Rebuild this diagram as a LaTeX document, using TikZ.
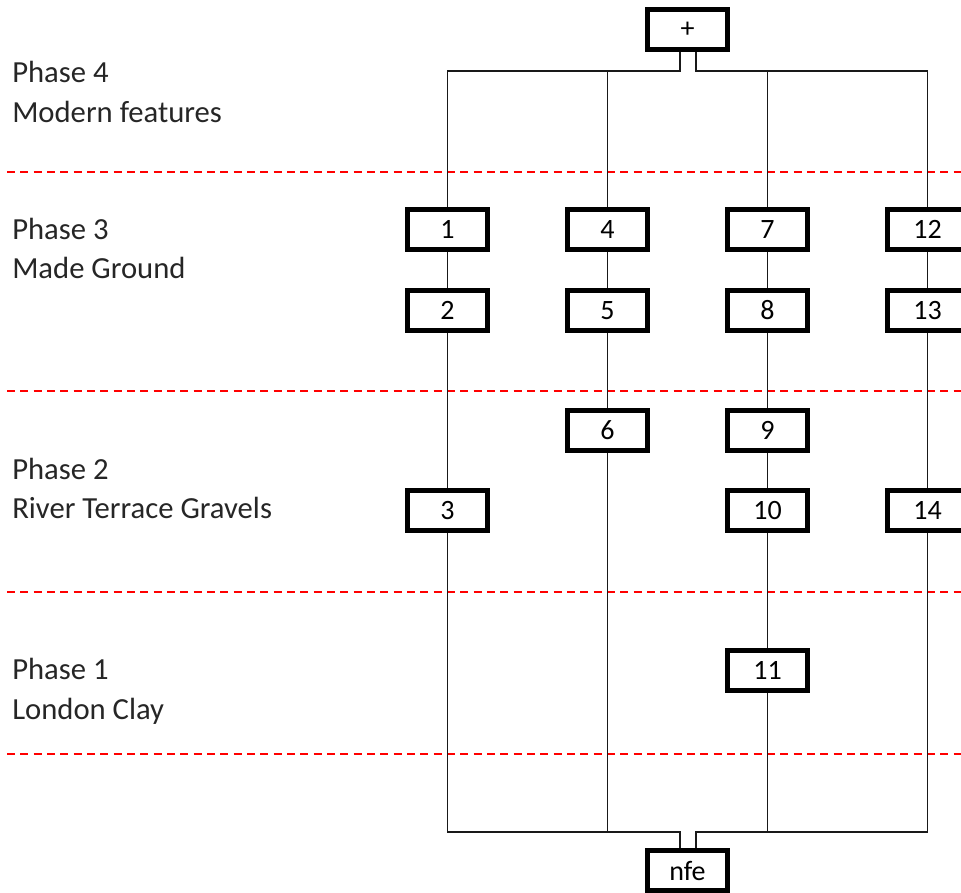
\documentclass[tikz,border=0pt]{standalone}
\usepackage{fontspec}
\setmainfont{Carlito}
\begin{document}
\begin{tikzpicture}[x=0.75pt,y=-0.75pt,
  stepbox/.style={draw=black,fill=white,line width=3.75pt,minimum width=60pt,minimum height=30pt,inner sep=0pt,font=\fontsize{21}{24}\selectfont},
  conn/.style={line width=1.2pt,black!90},
  phase/.style={anchor=base west,inner sep=0pt,font=\fontsize{23}{27}\selectfont,text=black!85},
  sep/.style={red,line width=1.1pt,dash pattern=on 6pt off 4pt}]
\useasboundingbox (0,0) rectangle (961,893);
\clip (0,0) rectangle (961,893);
% separators
\foreach \yy in {172,391,592,754} \draw[sep] (7,\yy) -- (961,\yy);
% labels
\node[phase] (p4a) at (12,82) {Phase 4};
\node[phase] (p4b) at (12,122) {Modern features};
\node[phase] (p3a) at (12,239) {Phase 3};
\node[phase] (p3b) at (12,278) {Made Ground};
\node[phase] (p2a) at (12,479) {Phase 2};
\node[phase] (p2b) at (12,518) {River Terrace Gravels};
\node[phase] (p1a) at (12,679) {Phase 1};
\node[phase] (p1b) at (12,719) {London Clay};
% coordinates
\coordinate (tl) at (680,71); \coordinate (tr) at (696,71);
\coordinate (bl) at (680,832); \coordinate (br) at (696,832);
\coordinate (t1) at (447.5,71); \coordinate (t2) at (607.5,71);
\coordinate (t3) at (767.5,71); \coordinate (t4) at (927.5,71);
\coordinate (e1) at (447.5,832); \coordinate (e2) at (607.5,832);
\coordinate (e3) at (767.5,832); \coordinate (e4) at (927.5,832);
% connectors (drawn first, boxes cover them)
\draw[conn] (680,29.5) -- (tl) -- (t1) -- (e1) -- (bl) -- (680,870);
\draw[conn] (696,29.5) -- (tr) -- (t4) -- (e4) -- (br) -- (696,870);
\draw[conn] (t2) -- (e2);
\draw[conn] (t3) -- (e3);
% boxes
\node[stepbox] (plus) at (687.5,29.5) {+};
\node[stepbox] (nfe) at (687.5,870.5) {nfe};
\node[stepbox] (b1) at (447.5,229.5) {1};
\node[stepbox] (b2) at (447.5,310.5) {2};
\node[stepbox] (b3) at (447.5,510.5) {3};
\node[stepbox] (b4) at (607.5,229.5) {4};
\node[stepbox] (b5) at (607.5,310.5) {5};
\node[stepbox] (b6) at (607.5,430.5) {6};
\node[stepbox] (b7) at (767.5,229.5) {7};
\node[stepbox] (b8) at (767.5,310.5) {8};
\node[stepbox] (b9) at (767.5,430.5) {9};
\node[stepbox] (b10) at (767.5,510.5) {10};
\node[stepbox] (b11) at (767.5,670.5) {11};
\node[stepbox] (b12) at (927.5,229.5) {12};
\node[stepbox] (b13) at (927.5,310.5) {13};
\node[stepbox] (b14) at (927.5,510.5) {14};
\end{tikzpicture}
\end{document}
